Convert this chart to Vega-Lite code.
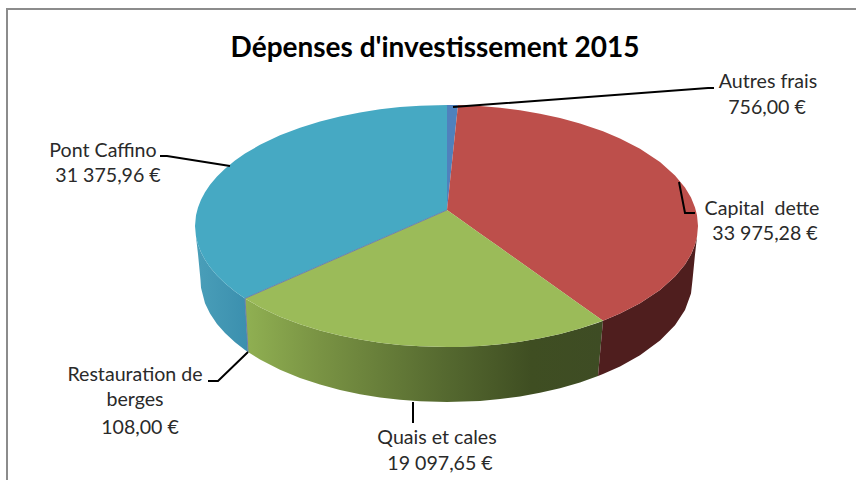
{
"$schema":"https://vega.github.io/schema/vega-lite/v6.json",
"width":856,"height":480,"padding":0,"autosize":{"type":"none"},"background":"#ffffff",
"config":{"view":{"stroke":null}},
"datasets":{
"walls":[
{"w":"cyan","x":195,"y":226,"y2":226},{"w":"cyan","x":196,"y":236.8,"y2":237},{"w":"cyan","x":198,"y":244.6,"y2":254},{"w":"cyan","x":200.5,"y":251.1,"y2":280},{"w":"cyan","x":201,"y":252.3,"y2":287.8},{"w":"cyan","x":205,"y":259.8,"y2":303.2},{"w":"cyan","x":210,"y":267.2,"y2":313.6},{"w":"cyan","x":217,"y":275.5,"y2":323.9},{"w":"cyan","x":225,"y":283.3,"y2":333.1},{"w":"cyan","x":235,"y":291.5,"y2":342.3},{"w":"cyan","x":245,"y":298.4,"y2":350},{"w":"cyan","x":248,"y":352.1,"y2":352.1},
{"w":"green","x":245,"y":298.4,"y2":298.4},{"w":"green","x":248,"y":300.2,"y2":352.1},{"w":"green","x":260,"y":307.2,"y2":359.6},{"w":"green","x":280,"y":316.7,"y2":369.8},{"w":"green","x":300,"y":324.3,"y2":378},{"w":"green","x":320,"y":330.6,"y2":384.6},{"w":"green","x":340,"y":335.6,"y2":390},{"w":"green","x":360,"y":339.6,"y2":394.2},{"w":"green","x":380,"y":342.7,"y2":397.5},{"w":"green","x":400,"y":344.9,"y2":399.8},{"w":"green","x":420,"y":346.3,"y2":401.3},{"w":"green","x":447,"y":347,"y2":402},{"w":"green","x":480,"y":345.9,"y2":400.9},{"w":"green","x":500,"y":344.2,"y2":399.1},{"w":"green","x":520,"y":341.7,"y2":396.4},{"w":"green","x":540,"y":338.3,"y2":392.8},{"w":"green","x":560,"y":334,"y2":388.2},{"w":"green","x":580,"y":328.5,"y2":382.5},{"w":"green","x":598,"y":322.8,"y2":376.1},{"w":"green","x":603,"y":320.7,"y2":320.7},
{"w":"red","x":598,"y":376.1,"y2":376.1},{"w":"red","x":603,"y":320.7,"y2":374.1},{"w":"red","x":620,"y":313.6,"y2":366.5},{"w":"red","x":640,"y":303.3,"y2":355.3},{"w":"red","x":660,"y":289.9,"y2":340.6},{"w":"red","x":675,"y":276.6,"y2":325.2},{"w":"red","x":685,"y":264.4,"y2":309.9},{"w":"red","x":691,"y":254.4,"y2":293.5},{"w":"red","x":692.5,"y":251.1,"y2":280},{"w":"red","x":695,"y":244.6,"y2":254.5},{"w":"red","x":697,"y":236.8,"y2":237},{"w":"red","x":698,"y":226,"y2":226}
],
"tops":[
{"slice":"Pont Caffino","x":195,"y":226,"y2":226},{"slice":"Pont Caffino","x":196,"y":215.2,"y2":236.8},{"slice":"Pont Caffino","x":198,"y":207.4,"y2":244.6},{"slice":"Pont Caffino","x":201,"y":199.7,"y2":252.3},{"slice":"Pont Caffino","x":205,"y":192.2,"y2":259.8},{"slice":"Pont Caffino","x":210,"y":184.8,"y2":267.2},{"slice":"Pont Caffino","x":217,"y":176.5,"y2":275.5},{"slice":"Pont Caffino","x":225,"y":168.7,"y2":283.3},{"slice":"Pont Caffino","x":235,"y":160.5,"y2":291.5},{"slice":"Pont Caffino","x":245,"y":153.6,"y2":298.4},{"slice":"Pont Caffino","x":260,"y":144.8,"y2":291.8},{"slice":"Pont Caffino","x":280,"y":135.3,"y2":283.1},{"slice":"Pont Caffino","x":300,"y":127.7,"y2":274.3},{"slice":"Pont Caffino","x":320,"y":121.4,"y2":265.6},{"slice":"Pont Caffino","x":340,"y":116.4,"y2":256.8},{"slice":"Pont Caffino","x":360,"y":112.4,"y2":248.1},{"slice":"Pont Caffino","x":380,"y":109.3,"y2":239.3},{"slice":"Pont Caffino","x":400,"y":107.1,"y2":230.6},{"slice":"Pont Caffino","x":420,"y":105.7,"y2":221.8},{"slice":"Pont Caffino","x":447,"y":105,"y2":210},
{"slice":"Autres frais","x":447,"y":105,"y2":210},{"slice":"Autres frais","x":458,"y":105.1,"y2":105.1},
{"slice":"Capital dette","x":447,"y":210,"y2":210},{"slice":"Capital dette","x":458,"y":105.1,"y2":217.8},{"slice":"Capital dette","x":480,"y":106.1,"y2":233.4},{"slice":"Capital dette","x":500,"y":107.8,"y2":247.6},{"slice":"Capital dette","x":520,"y":110.3,"y2":261.8},{"slice":"Capital dette","x":540,"y":113.7,"y2":276},{"slice":"Capital dette","x":560,"y":118,"y2":290.2},{"slice":"Capital dette","x":580,"y":123.5,"y2":304.4},{"slice":"Capital dette","x":603,"y":131.3,"y2":320.7},{"slice":"Capital dette","x":620,"y":138.4,"y2":313.6},{"slice":"Capital dette","x":640,"y":148.7,"y2":303.3},{"slice":"Capital dette","x":660,"y":162.1,"y2":289.9},{"slice":"Capital dette","x":675,"y":175.4,"y2":276.6},{"slice":"Capital dette","x":685,"y":187.6,"y2":264.4},{"slice":"Capital dette","x":691,"y":197.6,"y2":254.4},{"slice":"Capital dette","x":695,"y":207.4,"y2":244.6},{"slice":"Capital dette","x":697,"y":215.2,"y2":236.8},{"slice":"Capital dette","x":698,"y":226,"y2":226},
{"slice":"Quais et cales","x":245,"y":298.4,"y2":298.4},{"slice":"Quais et cales","x":260,"y":291.8,"y2":307.2},{"slice":"Quais et cales","x":280,"y":283.1,"y2":316.7},{"slice":"Quais et cales","x":300,"y":274.3,"y2":324.3},{"slice":"Quais et cales","x":320,"y":265.6,"y2":330.6},{"slice":"Quais et cales","x":340,"y":256.8,"y2":335.6},{"slice":"Quais et cales","x":360,"y":248.1,"y2":339.6},{"slice":"Quais et cales","x":380,"y":239.3,"y2":342.7},{"slice":"Quais et cales","x":400,"y":230.6,"y2":344.9},{"slice":"Quais et cales","x":420,"y":221.8,"y2":346.3},{"slice":"Quais et cales","x":447,"y":210,"y2":347},{"slice":"Quais et cales","x":458,"y":217.8,"y2":346.9},{"slice":"Quais et cales","x":480,"y":233.4,"y2":345.9},{"slice":"Quais et cales","x":500,"y":247.6,"y2":344.2},{"slice":"Quais et cales","x":520,"y":261.8,"y2":341.7},{"slice":"Quais et cales","x":540,"y":276,"y2":338.3},{"slice":"Quais et cales","x":560,"y":290.2,"y2":334},{"slice":"Quais et cales","x":580,"y":304.4,"y2":328.5},{"slice":"Quais et cales","x":603,"y":320.7,"y2":320.7}
],
"sliver":[{"i":1,"x":447,"y":210},{"i":2,"x":245,"y":298.4},{"i":3,"x":248,"y":352}],
"leaders":[
{"k":"Autres frais","i":1,"x":453,"y":107},{"k":"Autres frais","i":2,"x":708,"y":88},{"k":"Autres frais","i":3,"x":714,"y":88},
{"k":"Capital dette","i":1,"x":679,"y":182},{"k":"Capital dette","i":2,"x":685,"y":213},{"k":"Capital dette","i":3,"x":695,"y":213},
{"k":"Pont Caffino","i":1,"x":230,"y":166},{"k":"Pont Caffino","i":2,"x":167,"y":156},{"k":"Pont Caffino","i":3,"x":160,"y":156},
{"k":"Restauration","i":1,"x":248,"y":352},{"k":"Restauration","i":2,"x":218,"y":381},{"k":"Restauration","i":3,"x":208,"y":381},
{"k":"Quais","i":1,"x":413,"y":402},{"k":"Quais","i":2,"x":413,"y":423}
],
"frame":[{"i":1,"x":7,"y":480},{"i":2,"x":7,"y":9},{"i":3,"x":856,"y":9}],
"labels":[
{"t":"Autres frais","x":768,"y":88},{"t":"756,00 €","x":767,"y":114},
{"t":"Capital\u00a0 dette","x":762,"y":215},{"t":"33 975,28 €","x":765,"y":240},
{"t":"Pont Caffino","x":103,"y":157},{"t":"31 375,96 €","x":108,"y":182},
{"t":"Restauration de","x":135,"y":381},{"t":"berges","x":135,"y":406},{"t":"108,00 €","x":140,"y":434},
{"t":"Quais et cales","x":437,"y":444},{"t":"19 097,65 €","x":440,"y":470}
],
"heading":[{"t":"Dépenses d'investissement 2015","x":435,"y":57}]
},
"encoding":{
"x":{"field":"x","type":"quantitative","scale":{"domain":[0,856],"nice":false,"zero":false},"axis":null},
"y":{"field":"y","type":"quantitative","scale":{"domain":[480,0],"nice":false,"zero":false},"axis":null}
},
"layer":[
{"data":{"name":"walls"},"transform":[{"filter":"datum.w==='cyan'"}],
 "mark":{"type":"area","color":{"gradient":"linear","x1":0,"y1":0,"x2":1,"y2":0,"stops":[{"offset":0,"color":"#4a9fb9"},{"offset":1,"color":"#3b8fae"}]}},
 "encoding":{"y2":{"field":"y2"}}},
{"data":{"name":"walls"},"transform":[{"filter":"datum.w==='green'"}],
 "mark":{"type":"area","color":{"gradient":"linear","x1":0,"y1":0,"x2":1,"y2":0,"stops":[{"offset":0,"color":"#90b052"},{"offset":0.2,"color":"#7a9444"},{"offset":0.55,"color":"#566a30"},{"offset":0.8,"color":"#3f4e22"},{"offset":1,"color":"#3e4c24"}]}},
 "encoding":{"y2":{"field":"y2"}}},
{"data":{"name":"walls"},"transform":[{"filter":"datum.w==='red'"}],
 "mark":{"type":"area","color":"#4f1e1e"},
 "encoding":{"y2":{"field":"y2"}}},
{"data":{"name":"tops"},
 "mark":{"type":"area"},
 "encoding":{"y2":{"field":"y2"},
  "color":{"field":"slice","type":"nominal","legend":null,"scale":{"domain":["Pont Caffino","Autres frais","Capital dette","Quais et cales"],"range":["#46a9c3","#4f81bd","#bd4f4b","#9bbb59"]}}}},
{"data":{"name":"sliver"},
 "mark":{"type":"line","color":"#6d7fae","strokeWidth":1},
 "encoding":{"order":{"field":"i"}}},
{"data":{"name":"leaders"},
 "mark":{"type":"line","color":"#000000","strokeWidth":2},
 "encoding":{"detail":{"field":"k"},"order":{"field":"i"}}},
{"data":{"name":"frame"},
 "mark":{"type":"line","color":"#8c8c8c","strokeWidth":2},
 "encoding":{"order":{"field":"i"}}},
{"data":{"name":"labels"},
 "mark":{"type":"text","font":"Lato","fontSize":19.6,"color":"#2a2a2a","align":"center","baseline":"alphabetic"},
 "encoding":{"text":{"field":"t"}}},
{"data":{"name":"heading"},
 "mark":{"type":"text","font":"Lato","fontSize":28,"fontWeight":"bold","color":"#000000","align":"center","baseline":"alphabetic"},
 "encoding":{"text":{"field":"t"}}}
]
}
